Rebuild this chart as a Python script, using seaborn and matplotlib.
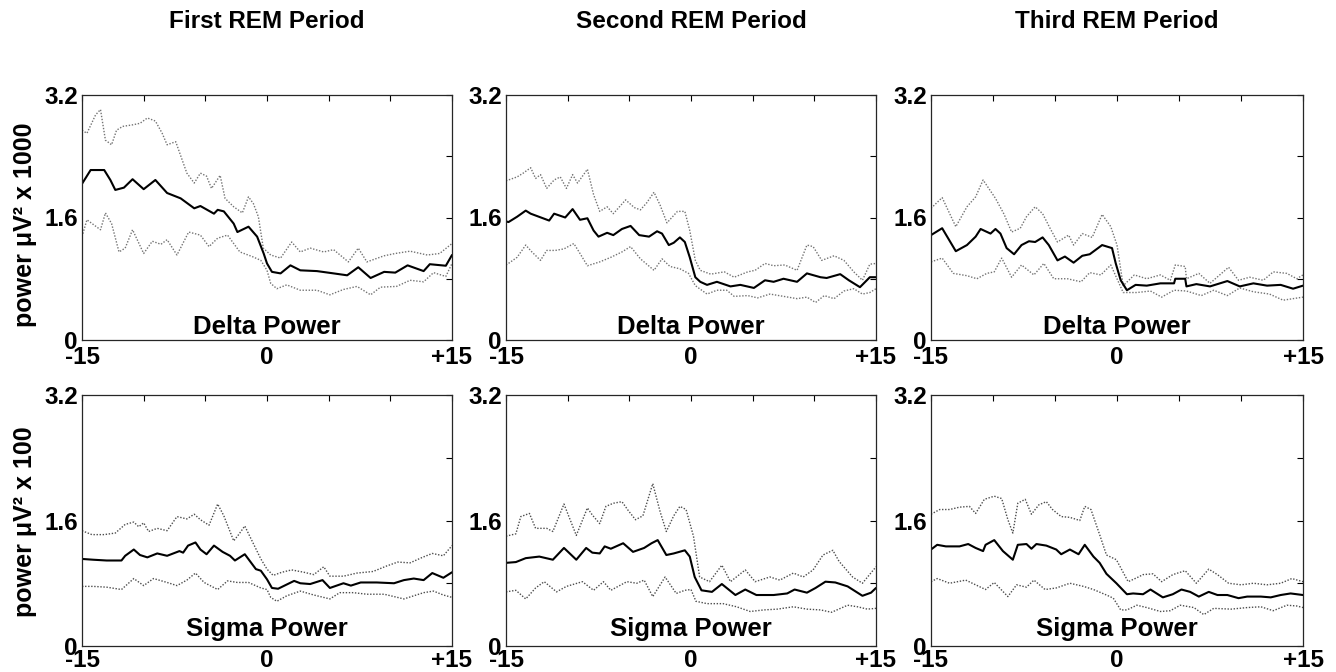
import matplotlib
matplotlib.use("Agg")
import matplotlib.pyplot as plt
import seaborn as sns
import pandas as pd

# ---------------- data (minutes from REM onset, power) ----------------
COLUMN_TITLES = ["First REM Period", "Second REM Period", "Third REM Period"]
ROW_LABELS = ["power \u03bcV\u00b2 x 1000", "power \u03bcV\u00b2 x 100"]
PANEL_TEXT = ["Delta Power", "Sigma Power"]
XTICKS = [-15, -10, -5, 0, 5, 10, 15]
XTICKLABELS = ["-15", "", "", "0", "", "", "+15"]
YTICKS = [0, 0.8, 1.6, 2.4, 3.2]
YTICKLABELS = ["0", "", "1.6", "", "3.2"]

# Delta, first REM period
D1_MEAN = [(-15, 2.04), (-14.3, 2.22), (-13.2, 2.22), (-12.7, 2.09), (-12.3, 1.96), (-11.6, 1.99),
           (-10.9, 2.10), (-10, 1.97), (-9.05, 2.09), (-8.1, 1.92), (-7, 1.85), (-5.9, 1.72),
           (-5.4, 1.75), (-4.3, 1.65), (-4, 1.70), (-3.5, 1.68), (-2.7, 1.52), (-2.4, 1.41),
           (-1.5, 1.48), (-0.8, 1.35), (-0.27, 1.13), (0, 1.0), (0.4, 0.89), (1.1, 0.87),
           (1.9, 0.975), (2.7, 0.91), (4.05, 0.90), (5.4, 0.87), (6.5, 0.845), (7.4, 0.95),
           (8.4, 0.81), (9.5, 0.89), (10.4, 0.88), (11.4, 0.975), (12.7, 0.90), (13.2, 0.99),
           (14.5, 0.97), (15, 1.11)]
D1_UPPER = [(-15, 2.74), (-14.6, 2.70), (-13.9, 2.94), (-13.5, 3.01), (-13.1, 2.61), (-12.6, 2.55),
            (-12.2, 2.74), (-11.7, 2.79), (-10.9, 2.81), (-10.3, 2.83), (-9.7, 2.90), (-9.05, 2.86),
            (-8.5, 2.70), (-8.1, 2.55), (-7.4, 2.59), (-6.5, 2.18), (-5.9, 2.05), (-5.4, 2.18),
            (-4.9, 2.14), (-4.5, 1.98), (-3.8, 2.15), (-3.4, 1.85), (-2.7, 1.74), (-2.0, 1.66),
            (-1.5, 1.87), (-1.1, 1.78), (-0.7, 1.61), (-0.3, 1.20), (0.3, 1.11), (1.1, 1.07),
            (2.0, 1.28), (2.7, 1.15), (3.5, 1.20), (4.6, 1.15), (5.4, 1.18), (6.6, 1.02),
            (7.4, 1.20), (8.1, 1.02), (9.5, 1.10), (10.4, 1.13), (11.6, 1.16), (13, 1.11),
            (14, 1.13), (15, 1.26)]
D1_LOWER = [(-15, 1.35), (-14.6, 1.57), (-13.5, 1.44), (-13.1, 1.66), (-12.6, 1.52), (-12, 1.15),
            (-11.5, 1.20), (-10.9, 1.44), (-10, 1.13), (-9.3, 1.29), (-8.6, 1.25), (-8.1, 1.31),
            (-7.3, 1.11), (-6.35, 1.41), (-5.4, 1.37), (-4.7, 1.22), (-4, 1.33), (-3.2, 1.37),
            (-2.2, 1.15), (-1.2, 1.09), (-0.5, 1.04), (0, 0.91), (0.3, 0.74), (0.8, 0.67),
            (1.6, 0.72), (2.7, 0.65), (4.05, 0.65), (5.1, 0.59), (6.2, 0.66), (7.3, 0.70),
            (8.4, 0.59), (9.2, 0.69), (10.5, 0.70), (11.6, 0.78), (12.7, 0.76), (13.5, 0.88),
            (14.5, 0.83), (15, 1.0)]

# Delta, second REM period
D2_MEAN = [(-15, 1.55), (-14.8, 1.54), (-14.1, 1.61), (-13.4, 1.69), (-13, 1.65), (-12.5, 1.62),
           (-11.5, 1.56), (-11.1, 1.65), (-10.2, 1.60), (-9.6, 1.71), (-9, 1.57), (-8.4, 1.59),
           (-7.9, 1.43), (-7.5, 1.35), (-6.8, 1.40), (-6.3, 1.37), (-5.6, 1.45), (-4.9, 1.49),
           (-4.2, 1.37), (-3.4, 1.35), (-2.75, 1.42), (-2.35, 1.39), (-1.8, 1.24), (-1.4, 1.27),
           (-0.9, 1.34), (-0.5, 1.28), (-0.1, 1.08), (0.35, 0.82), (0.75, 0.76), (1.3, 0.72),
           (2.1, 0.76), (3.2, 0.70), (4.0, 0.72), (5.1, 0.68), (6, 0.78), (6.7, 0.76),
           (7.5, 0.80), (8.6, 0.76), (9.4, 0.87), (10.5, 0.82), (11, 0.81), (12.1, 0.86),
           (12.8, 0.78), (13.7, 0.69), (14.5, 0.82), (15, 0.82)]
D2_UPPER = [(-15, 2.08), (-14.8, 2.09), (-14.1, 2.13), (-13.6, 2.18), (-13, 2.25), (-12.6, 2.11),
            (-12.2, 2.16), (-11.7, 1.98), (-11.1, 2.09), (-10.6, 2.13), (-10.1, 1.98), (-9.6, 2.16),
            (-9.2, 2.05), (-8.4, 2.23), (-7.9, 1.90), (-7.4, 1.68), (-6.8, 1.74), (-6.3, 1.65),
            (-5.3, 1.83), (-4.6, 1.73), (-4.1, 1.70), (-3.6, 1.79), (-3, 1.93), (-2.5, 1.76),
            (-1.95, 1.53), (-1.1, 1.68), (-0.5, 1.68), (-0.1, 1.43), (0.35, 1.04), (0.75, 0.91),
            (1.6, 0.86), (2.7, 0.89), (3.5, 0.82), (4.6, 0.89), (5.2, 0.91), (6, 1.0),
            (6.7, 0.97), (7.6, 0.98), (8.6, 0.91), (9.4, 1.24), (9.9, 1.22), (10.6, 1.04),
            (11.6, 1.10), (12.4, 1.04), (13.2, 0.89), (13.9, 0.78), (14.5, 0.99), (15, 1.0)]
D2_LOWER = [(-15, 0.98), (-14.8, 1.0), (-14.1, 1.08), (-13.4, 1.24), (-12.9, 1.15), (-12.2, 1.04),
            (-11.7, 1.17), (-11, 1.17), (-10.3, 1.19), (-9.5, 1.26), (-9, 1.13), (-8.4, 0.97),
            (-7.4, 1.02), (-6.5, 1.08), (-5.6, 1.15), (-4.9, 1.22), (-4.1, 1.06), (-3, 0.91),
            (-2.35, 1.06), (-1.7, 0.96), (-0.9, 0.93), (-0.2, 0.87), (0.35, 0.71), (1.3, 0.60),
            (2.1, 0.65), (2.9, 0.65), (3.5, 0.57), (4.6, 0.58), (5.4, 0.55), (6.4, 0.60),
            (7.5, 0.57), (8.6, 0.54), (9.4, 0.56), (10.1, 0.49), (10.8, 0.58), (11.6, 0.54),
            (12.4, 0.64), (13.2, 0.67), (13.9, 0.60), (14.5, 0.62), (15, 0.67)]

# Delta, third REM period
D3_MEAN = [(-15, 1.37), (-14.1, 1.46), (-13, 1.16), (-12.1, 1.24), (-11.4, 1.35), (-11, 1.45),
           (-10.2, 1.39), (-9.8, 1.45), (-9.4, 1.39), (-8.9, 1.20), (-8.3, 1.12), (-7.7, 1.24),
           (-7.1, 1.29), (-6.6, 1.28), (-6, 1.34), (-5.5, 1.24), (-4.8, 1.04), (-4.2, 1.09),
           (-3.5, 1.01), (-2.8, 1.10), (-2.2, 1.12), (-1.2, 1.24), (-0.4, 1.20), (-0.1, 1.0),
           (0.3, 0.78), (0.8, 0.65), (1.5, 0.72), (2.4, 0.71), (3.5, 0.74), (4.6, 0.74),
           (4.7, 0.80), (5.5, 0.80), (5.6, 0.70), (6.4, 0.73), (7.5, 0.70), (8.9, 0.77),
           (9.9, 0.70), (11, 0.74), (12.1, 0.71), (13.2, 0.72), (14.2, 0.67), (15, 0.71)]
D3_UPPER = [(-15, 1.72), (-14.1, 1.86), (-13, 1.48), (-12.1, 1.74), (-11.4, 1.87), (-10.8, 2.09),
            (-9.8, 1.85), (-9.1, 1.64), (-8.5, 1.41), (-7.8, 1.46), (-7.3, 1.61), (-6.6, 1.74),
            (-6, 1.65), (-5.4, 1.46), (-4.8, 1.28), (-3.9, 1.37), (-3.5, 1.24), (-2.8, 1.39),
            (-2, 1.34), (-1.2, 1.64), (-0.5, 1.48), (0, 1.24), (0.5, 0.71), (1.4, 0.85),
            (2.4, 0.80), (3.5, 0.85), (4.3, 0.78), (4.7, 0.98), (5.5, 0.96), (5.6, 0.80),
            (6.6, 0.87), (7.5, 0.74), (9, 0.95), (9.8, 0.78), (10.7, 0.82), (11.8, 0.78),
            (12.6, 0.89), (13.7, 0.87), (14.5, 0.80), (15, 0.85)]
D3_LOWER = [(-15, 1.02), (-14.1, 1.07), (-13.2, 0.87), (-12.1, 0.84), (-11.3, 0.80), (-10.5, 0.87),
            (-9.9, 0.89), (-9.3, 1.07), (-8.5, 0.82), (-7.7, 0.98), (-6.7, 0.85), (-5.9, 1.0),
            (-5.1, 0.80), (-4, 0.80), (-2.9, 0.76), (-2.2, 0.88), (-1.3, 0.85), (-0.5, 0.98),
            (0, 0.80), (0.5, 0.62), (1.6, 0.62), (2.7, 0.64), (3.6, 0.56), (4.6, 0.65),
            (5.6, 0.64), (6.8, 0.58), (7.8, 0.65), (8.9, 0.58), (9.9, 0.68), (11, 0.63),
            (12.3, 0.60), (13.4, 0.52), (14.2, 0.54), (15, 0.56)]

# Sigma, first REM period
S1_MEAN = [(-15, 1.11), (-14.1, 1.10), (-13, 1.09), (-11.8, 1.09), (-11.5, 1.15), (-10.8, 1.23),
           (-10.3, 1.16), (-9.7, 1.13), (-8.9, 1.18), (-8.1, 1.15), (-7.1, 1.21), (-6.8, 1.19),
           (-6.4, 1.28), (-5.8, 1.32), (-5.4, 1.23), (-4.9, 1.17), (-4.3, 1.28), (-3.6, 1.20),
           (-3, 1.15), (-2.6, 1.09), (-1.8, 1.17), (-0.9, 0.98), (-0.5, 0.96), (0, 0.85),
           (0.4, 0.74), (0.9, 0.73), (2.2, 0.83), (2.7, 0.80), (3.5, 0.79), (4.5, 0.84),
           (5.1, 0.74), (6.2, 0.80), (6.8, 0.77), (7.6, 0.81), (8.9, 0.81), (10.3, 0.80),
           (11.1, 0.84), (11.9, 0.86), (12.7, 0.84), (13.4, 0.93), (14.3, 0.87), (15, 0.94)]
S1_UPPER = [(-15, 1.47), (-14.2, 1.42), (-13.2, 1.42), (-12.3, 1.44), (-11.5, 1.55), (-10.8, 1.58),
            (-10.4, 1.52), (-10, 1.57), (-9.6, 1.46), (-8.9, 1.50), (-8.1, 1.47), (-7.3, 1.65),
            (-6.5, 1.62), (-5.9, 1.68), (-5.4, 1.61), (-4.7, 1.54), (-4, 1.81), (-3.5, 1.66),
            (-2.7, 1.34), (-2.3, 1.42), (-1.8, 1.53), (-1.4, 1.40), (-0.5, 1.11), (0, 0.98),
            (0.5, 0.90), (1.2, 0.94), (2.0, 0.97), (3, 0.94), (3.8, 0.91), (4.6, 1.01),
            (5.1, 0.89), (6.2, 0.89), (7.3, 0.93), (8.6, 0.95), (9.7, 1.02), (10.6, 1.07),
            (11.6, 1.06), (12.6, 1.13), (13.4, 1.18), (14.3, 1.15), (15, 1.28)]
S1_LOWER = [(-15, 0.76), (-14.1, 0.76), (-13, 0.75), (-11.8, 0.72), (-10.8, 0.86), (-10, 0.77),
            (-9.2, 0.86), (-8.1, 0.81), (-7.3, 0.77), (-6.5, 0.84), (-5.8, 0.93), (-5.1, 0.81),
            (-4, 0.72), (-3.2, 0.83), (-2.4, 0.81), (-1.5, 0.81), (-0.5, 0.74), (0, 0.72),
            (0.3, 0.62), (0.8, 0.57), (1.6, 0.64), (2.7, 0.70), (3.8, 0.65), (5.1, 0.60),
            (5.9, 0.68), (7, 0.68), (8.1, 0.66), (9.5, 0.66), (11.1, 0.60), (11.9, 0.64),
            (12.7, 0.68), (13.5, 0.70), (14.3, 0.65), (15, 0.62)]

# Sigma, second REM period
S2_MEAN = [(-15, 1.06), (-14.2, 1.07), (-13.4, 1.12), (-12.3, 1.14), (-11.2, 1.10), (-10.3, 1.25),
           (-9.3, 1.10), (-8.5, 1.25), (-8, 1.19), (-7.4, 1.18), (-7, 1.27), (-6.5, 1.24),
           (-5.5, 1.31), (-4.7, 1.20), (-3.8, 1.25), (-3.2, 1.31), (-2.7, 1.35), (-2, 1.16),
           (-1.4, 1.18), (-0.5, 1.22), (-0.1, 1.14), (0.3, 0.88), (0.85, 0.71), (1.7, 0.69),
           (2.5, 0.79), (3.6, 0.65), (4.4, 0.72), (5.3, 0.65), (6.7, 0.65), (7.8, 0.67),
           (8.4, 0.72), (9.4, 0.68), (10.1, 0.74), (10.9, 0.82), (11.7, 0.81), (12.7, 0.76),
           (13.9, 0.64), (14.6, 0.68), (15, 0.74)]
S2_UPPER = [(-15, 1.40), (-14.2, 1.43), (-13.8, 1.65), (-13.1, 1.69), (-12.6, 1.50), (-11.7, 1.50),
            (-11.2, 1.46), (-10.3, 1.81), (-9.3, 1.41), (-8.4, 1.76), (-8, 1.67), (-7.4, 1.56),
            (-6.9, 1.78), (-6.3, 1.82), (-5.6, 1.84), (-5.1, 1.73), (-4.5, 1.61), (-3.9, 1.66),
            (-3.1, 2.07), (-2.5, 1.71), (-2, 1.46), (-1.4, 1.66), (-0.9, 1.78), (-0.4, 1.74),
            (0.2, 1.40), (0.7, 0.88), (1.5, 0.82), (2.5, 1.03), (3.2, 0.82), (4.4, 0.97),
            (5.2, 0.82), (6.4, 0.88), (7.2, 0.84), (8.3, 0.93), (9.1, 0.88), (9.9, 0.97),
            (10.7, 1.16), (11.5, 1.22), (12, 1.08), (13.1, 0.88), (13.9, 0.80), (15, 1.01)]
S2_LOWER = [(-15, 0.69), (-14.2, 0.71), (-13.4, 0.60), (-12.6, 0.74), (-11.9, 0.82), (-10.9, 0.69),
            (-10.1, 0.76), (-8.8, 0.82), (-7.9, 0.71), (-7.1, 0.82), (-6.5, 0.71), (-5.2, 0.82),
            (-4.4, 0.80), (-3.8, 0.84), (-3.1, 0.63), (-2.1, 0.88), (-1.2, 0.67), (-0.5, 0.71),
            (0, 0.72), (0.4, 0.57), (1.3, 0.54), (2.6, 0.54), (3.7, 0.50), (4.8, 0.44),
            (5.9, 0.46), (7, 0.47), (8.3, 0.50), (9.4, 0.47), (10.5, 0.46), (11.4, 0.43),
            (12.7, 0.52), (13.5, 0.50), (14.3, 0.47), (15, 0.48)]

# Sigma, third REM period
S3_MEAN = [(-15, 1.23), (-14.5, 1.29), (-13.8, 1.27), (-12.7, 1.27), (-12, 1.30), (-11.4, 1.25),
           (-10.8, 1.21), (-10.6, 1.29), (-9.9, 1.35), (-9.2, 1.21), (-8.4, 1.10), (-8, 1.29),
           (-7.3, 1.30), (-6.9, 1.24), (-6.5, 1.30), (-5.7, 1.28), (-4.9, 1.23), (-4.5, 1.17),
           (-3.8, 1.23), (-3.1, 1.17), (-2.6, 1.29), (-1.9, 1.14), (-1.4, 1.06), (-0.85, 0.92),
           (-0.05, 0.80), (0.8, 0.66), (1.3, 0.67), (2.1, 0.66), (2.7, 0.72), (3.7, 0.62),
           (4.5, 0.66), (5.2, 0.72), (5.9, 0.69), (6.6, 0.63), (7.4, 0.69), (8.1, 0.65),
           (8.9, 0.65), (9.8, 0.61), (10.5, 0.63), (11.6, 0.63), (12.4, 0.62), (13.2, 0.65),
           (14, 0.67), (15, 0.65)]
S3_UPPER = [(-15, 1.68), (-14.3, 1.74), (-13.5, 1.74), (-12.7, 1.77), (-11.9, 1.78), (-11.4, 1.69),
            (-10.7, 1.87), (-9.9, 1.91), (-9.3, 1.88), (-8.8, 1.61), (-8.4, 1.44), (-8, 1.82),
            (-7.4, 1.87), (-6.9, 1.68), (-6.3, 1.80), (-5.7, 1.84), (-5.2, 1.74), (-4.5, 1.65),
            (-3.8, 1.64), (-3, 1.60), (-2.6, 1.78), (-2.1, 1.74), (-1.4, 1.42), (-0.85, 1.16),
            (-0.05, 1.10), (0.9, 0.82), (1.6, 0.87), (2.1, 0.91), (2.9, 0.92), (3.6, 0.82),
            (4.5, 0.91), (5.5, 0.96), (6.4, 0.80), (7.4, 0.98), (8.1, 0.91), (9, 0.80),
            (10, 0.78), (11, 0.80), (12.1, 0.78), (13.2, 0.80), (14.1, 0.86), (15, 0.82)]
S3_LOWER = [(-15, 0.82), (-14.5, 0.86), (-13.5, 0.80), (-12.2, 0.84), (-11.4, 0.78), (-10.6, 0.72),
            (-9.9, 0.81), (-8.8, 0.63), (-8.1, 0.78), (-7.3, 0.75), (-6.7, 0.84), (-5.8, 0.72),
            (-4.9, 0.74), (-3.8, 0.80), (-2.7, 0.76), (-1.9, 0.72), (-0.85, 0.65), (-0.3, 0.61),
            (0.3, 0.46), (0.8, 0.46), (1.6, 0.52), (2.4, 0.49), (3.5, 0.44), (4.3, 0.45),
            (5.1, 0.52), (6.2, 0.49), (7, 0.40), (7.8, 0.48), (9.2, 0.47), (10.5, 0.49),
            (11.6, 0.50), (12.6, 0.45), (13.7, 0.52), (14.5, 0.51), (15, 0.49)]

PANELS = [
    [(D1_MEAN, D1_UPPER, D1_LOWER), (D2_MEAN, D2_UPPER, D2_LOWER), (D3_MEAN, D3_UPPER, D3_LOWER)],
    [(S1_MEAN, S1_UPPER, S1_LOWER), (S2_MEAN, S2_UPPER, S2_LOWER), (S3_MEAN, S3_UPPER, S3_LOWER)],
]

# ---------------- drawing ----------------
sns.set_theme(style="white")
plt.rcParams["font.family"] = ["Liberation Sans", "DejaVu Sans"]
plt.rcParams["font.weight"] = "bold"

W, H = 1336, 672
fig = plt.figure(figsize=(W / 100, H / 100), dpi=100)
fig.patch.set_facecolor("white")

col_px = [(82, 452), (506, 876), (931, 1303)]
row_px = [(95, 340), (395, 646)]
xpad = [4.5, 2.5]
text_y = [0.025, 0.04]


def to_frame(points):
    return pd.DataFrame(points, columns=["t", "v"])


for r in range(2):
    for c in range(3):
        x0, x1 = col_px[c]
        y0, y1 = row_px[r]
        ax = fig.add_axes([x0 / W, 1 - y1 / H, (x1 - x0) / W, (y1 - y0) / H])
        mean, upper, lower = PANELS[r][c]
        dot_col = "0.45" if r == 0 else "0.3"
        sns.lineplot(data=to_frame(upper), x="t", y="v", ax=ax, color=dot_col,
                     linestyle=(0, (1, 1.2)), linewidth=1.0, sort=False, estimator=None)
        sns.lineplot(data=to_frame(lower), x="t", y="v", ax=ax, color=dot_col,
                     linestyle=(0, (1, 1.2)), linewidth=1.0, sort=False, estimator=None)
        sns.lineplot(data=to_frame(mean), x="t", y="v", ax=ax, color="black",
                     linewidth=1.5, sort=False, estimator=None)
        ax.set_xlim(-15, 15)
        ax.set_ylim(0, 3.2)
        ax.set_xticks(XTICKS)
        ax.set_xticklabels(XTICKLABELS)
        ax.set_yticks(YTICKS)
        ax.set_yticklabels(YTICKLABELS)
        ax.tick_params(direction="in", length=4, width=0.8, top=True, right=True,
                       labelsize=17.5, colors="black")
        ax.tick_params(axis="x", pad=xpad[r])
        ax.tick_params(axis="y", pad=3)
        for lab in ax.get_xticklabels() + ax.get_yticklabels():
            lab.set_fontweight("bold")
        ax.set_xlabel("")
        ax.set_ylabel("")
        for s in ax.spines.values():
            s.set_visible(True)
            s.set_color("0.15")
            s.set_linewidth(0.9)
        ax.text(0.5, text_y[r], PANEL_TEXT[r], transform=ax.transAxes, ha="center",
                va="baseline", fontsize=18.5, fontweight="bold", color="black")

for c in range(3):
    x0, x1 = col_px[c]
    fig.text((x0 + x1) / 2 / W, 1 - 21 / H, COLUMN_TITLES[c], ha="center", va="center",
             fontsize=17.5, fontweight="bold", color="black")

label_y = [225, 522]
for r in range(2):
    fig.text(25 / W, 1 - label_y[r] / H, ROW_LABELS[r], rotation=90, ha="center", va="center",
             fontsize=18, fontweight="bold", color="black")

fig.savefig("out.png", dpi=100, facecolor="white")
